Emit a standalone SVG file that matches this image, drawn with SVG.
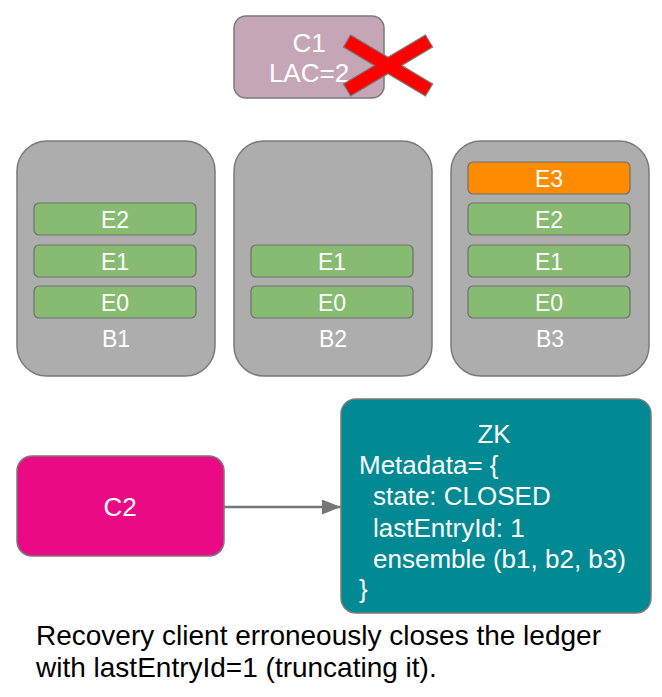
<svg xmlns="http://www.w3.org/2000/svg" width="662" height="697" viewBox="0 0 662 697">
<defs>
<style>
text{font-family:"Liberation Sans",Arial,sans-serif;fill:#ffffff}
.bk{fill:#adadad;stroke:#7a7a7a;stroke-width:1.5}
.en{fill:#87bb72;stroke:#707070;stroke-width:1.2}
.e3{fill:#ff8c00;stroke:#707070;stroke-width:1.2}
.el{font-size:23px;text-anchor:middle}
.bl{font-size:23px;text-anchor:middle}
.nt{font-size:26px}
.cap{font-size:28px;fill:#000000}
</style>
<marker id="ah" markerWidth="19" markerHeight="15" refX="19" refY="7.5" orient="auto" markerUnits="userSpaceOnUse">
<path d="M0,0 L19,7.5 L0,15 Z" fill="#777777"/>
</marker>
</defs>
<rect width="662" height="697" fill="#ffffff"/>

<g id="C1">
<rect x="234" y="16" width="150" height="82" rx="12" fill="#c5a6b7" stroke="#7a7a7a" stroke-width="1.5"/>
<text class="nt" x="309" y="52" text-anchor="middle">C1</text>
<text class="nt" x="309" y="82" text-anchor="middle">LAC=2</text>
</g>
<g id="cross">
<polygon points="350.6,35 388,57.35 425.4,35 432.6,47 401.65,65.5 432.6,84 425.4,96 388,73.65 350.6,96 343.4,84 374.35,65.5 343.4,47" fill="#ff0000" stroke="#7a7a7a" stroke-width="1.2" stroke-linejoin="miter"/>
</g>

<g id="B1">
<rect class="bk" x="17" y="141" width="198" height="235" rx="30"/>
<rect class="en" x="34" y="203" width="162" height="32" rx="5"/>
<text class="el" x="115" y="227.5">E2</text>
<rect class="en" x="34" y="245" width="162" height="32" rx="5"/>
<text class="el" x="115" y="269.5">E1</text>
<rect class="en" x="34" y="286" width="162" height="32" rx="5"/>
<text class="el" x="115" y="310.5">E0</text>
<text class="bl" x="116" y="347">B1</text>
</g>

<g id="B2">
<rect class="bk" x="234" y="141" width="198" height="235" rx="30"/>
<rect class="en" x="251" y="245" width="162" height="32" rx="5"/>
<text class="el" x="332" y="269.5">E1</text>
<rect class="en" x="251" y="286" width="162" height="32" rx="5"/>
<text class="el" x="332" y="310.5">E0</text>
<text class="bl" x="333" y="347">B2</text>
</g>

<g id="B3">
<rect class="bk" x="451" y="141" width="198" height="235" rx="30"/>
<rect class="e3" x="468" y="162" width="162" height="32" rx="5"/>
<text class="el" x="549" y="186.5">E3</text>
<rect class="en" x="468" y="203" width="162" height="32" rx="5"/>
<text class="el" x="549" y="227.5">E2</text>
<rect class="en" x="468" y="245" width="162" height="32" rx="5"/>
<text class="el" x="549" y="269.5">E1</text>
<rect class="en" x="468" y="286" width="162" height="32" rx="5"/>
<text class="el" x="549" y="310.5">E0</text>
<text class="bl" x="550" y="347">B3</text>
</g>

<g id="C2">
<rect x="17" y="456" width="207" height="100" rx="15" fill="#ea0a85" stroke="#7a7a7a" stroke-width="1.5"/>
<text class="nt" x="120" y="516" text-anchor="middle">C2</text>
</g>

<g id="ZK">
<rect x="341" y="399" width="310" height="214" rx="15" fill="#028a94" stroke="#7a7a7a" stroke-width="1.5"/>
<text class="nt" x="494" y="443" text-anchor="middle">ZK</text>
<text class="nt" x="359" y="474">Metadata= {</text>
<text class="nt" x="373" y="505">state: CLOSED</text>
<text class="nt" x="373" y="537">lastEntryId: 1</text>
<text class="nt" x="373" y="568">ensemble (b1, b2, b3)</text>
<text class="nt" x="359" y="598">}</text>
</g>

<g id="connectors">
<line x1="224" y1="507" x2="341" y2="507" stroke="#777777" stroke-width="2.5" marker-end="url(#ah)"/>
</g>

<g id="caption">
<text class="cap" x="36" y="645">Recovery client erroneously closes the ledger</text>
<text class="cap" x="36" y="677">with lastEntryId=1 (truncating it).</text>
</g>
</svg>
